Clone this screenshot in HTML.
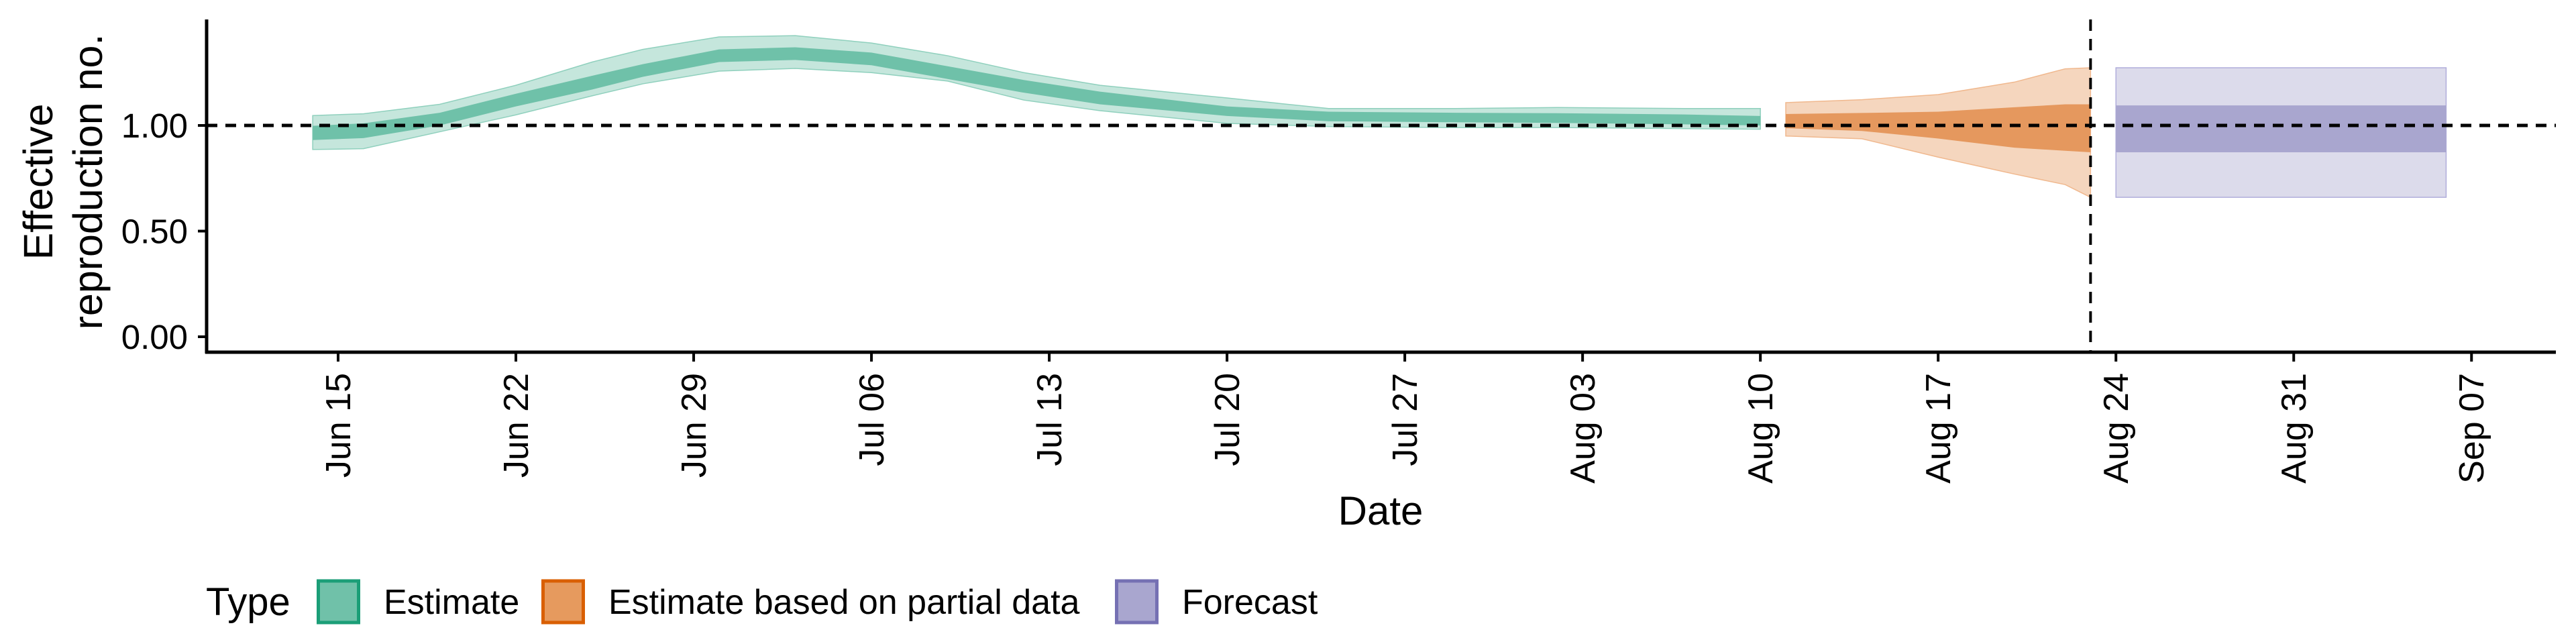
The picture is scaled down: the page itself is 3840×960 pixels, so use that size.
<!DOCTYPE html>
<html><head><meta charset="utf-8"><style>
html,body{margin:0;padding:0;background:#fff;}
svg{display:block;font-family:"Liberation Sans",sans-serif;}
</style></head><body>
<svg id="chart" width="3840" height="960" viewBox="0 0 3840 960">
<g id="bands"></g>
<g id="axes"></g>
<g id="legend"></g>
</svg>
<script>
// ---- data ----
const tickLabels = ["Jun 15","Jun 22","Jun 29","Jul 06","Jul 13","Jul 20","Jul 27","Aug 03","Aug 10","Aug 17","Aug 24","Aug 31","Sep 07"];
const tickDays = [0,7,14,21,28,35,42,49,56,63,70,77,84];
const yTicks = [0,0.5,1.0];
const yTickLabels = ["0.00","0.50","1.00"];
// Estimate (day offset from Jun 15)
const estDays = [-1,1,4,7,10,12,15,18,21,24,27,30,35,39,44,48,53,56];
const estLo90 = [.886,.89,.97,1.05,1.14,1.197,1.257,1.27,1.25,1.21,1.12,1.07,1.01,.995,.99,.99,.985,.982];
const estHi90 = [1.047,1.055,1.10,1.19,1.30,1.36,1.419,1.425,1.39,1.33,1.25,1.19,1.13,1.08,1.08,1.085,1.08,1.08];
const estLo50 = [.931,.94,1.0,1.09,1.17,1.23,1.30,1.31,1.285,1.22,1.155,1.10,1.045,1.02,1.015,1.012,1.005,1.0];
const estHi50 = [.998,1.01,1.06,1.15,1.235,1.29,1.36,1.37,1.345,1.28,1.215,1.16,1.09,1.065,1.06,1.058,1.052,1.045];
// Estimate based on partial data
const partDays = [57,60,63,66,68,69];
const partLo90 = [.95,.937,.85,.77,.72,.66];
const partHi90 = [1.108,1.122,1.146,1.205,1.268,1.273];
const partLo50 = [.987,.974,.938,.895,.88,.873];
const partHi50 = [1.054,1.059,1.065,1.086,1.10,1.10];
// Forecast
const fcDays = [70,83];
const fcLo90 = [.66,.66];
const fcHi90 = [1.273,1.273];
const fcLo50 = [.873,.873];
const fcHi50 = [1.095,1.095];
const cutoffDay = 69;
const refValue = 1.0;

// ---- scales ----
const X0 = 504, DAYPX = 37.86;
const xs = d => X0 + d*DAYPX;
const ys = v => 502 - 315*v;
const NS = "http://www.w3.org/2000/svg";
function mk(tag, attrs, parent){const e=document.createElementNS(NS,tag);for(const k in attrs)e.setAttribute(k,attrs[k]);parent.appendChild(e);return e;}

const bands = document.getElementById('bands');
function ribbon(days, lo, hi, fill, stroke, name){
  let pts=[];
  for(let i=0;i<days.length;i++) pts.push(xs(days[i])+","+ys(hi[i]));
  for(let i=days.length-1;i>=0;i--) pts.push(xs(days[i])+","+ys(lo[i]));
  const p = mk('polygon',{points:pts.join(" "),fill:fill,stroke:stroke,'stroke-width':1.5},bands);
  
  
}
ribbon(estDays, estLo90, estHi90, "#c5e6dc", "#8fd0bd", "estimate-90-band");
ribbon(estDays, estLo50, estHi50, "#6fc1a9", "none", "estimate-50-band");
ribbon(partDays, partLo90, partHi90, "#f5d6be", "#f0b88e", "partial-90-band");
ribbon(partDays, partLo50, partHi50, "#e5985e", "none", "partial-50-band");
ribbon(fcDays, fcLo90, fcHi90, "#dcdbeb", "#b0addb", "forecast-90-band");
ribbon(fcDays, fcLo50, fcHi50, "#a9a6cf", "none", "forecast-50-band");

const axes = document.getElementById('axes');
const hl = mk('line',{x1:308,x2:3810,y1:ys(refValue),y2:ys(refValue),stroke:"#000",'stroke-width':5,'stroke-dasharray':"16 12"},axes);


const vl = mk('line',{x1:xs(cutoffDay),x2:xs(cutoffDay),y1:29,y2:525,stroke:"#000",'stroke-width':4,'stroke-dasharray':"17 12"},axes);



const ya = mk('line',{x1:308,x2:308,y1:29,y2:527,stroke:"#000",'stroke-width':5},axes);


const xa = mk('line',{x1:306,x2:3810,y1:525,y2:525,stroke:"#000",'stroke-width':5},axes);



yTicks.forEach((v,i)=>{
  const t = mk('line',{x1:295,x2:308,y1:ys(v),y2:ys(v),stroke:"#000",'stroke-width':4},axes);
  
  
  const l = mk('text',{x:280,y:ys(v)+18,'text-anchor':'end','font-size':51,fill:"#000"},axes);
  l.textContent = yTickLabels[i];
  
  
});
tickDays.forEach((d,i)=>{
  const x = xs(d);
  const t = mk('line',{x1:x,x2:x,y1:525,y2:539,stroke:"#000",'stroke-width':4},axes);
  
  
  const l = mk('text',{x:0,y:0,'text-anchor':'end','font-size':52,fill:"#000",transform:`translate(${x+18},556) rotate(-90)`},axes);
  l.textContent = tickLabels[i];
  
  
});
const xt = mk('text',{x:2058,y:782,'text-anchor':'middle','font-size':60,fill:"#000"},axes);
xt.textContent = "Date";


const yt = mk('text',{'text-anchor':'middle','font-size':61,fill:"#000",transform:"translate(0,271) rotate(-90)"},axes);


const t1 = mk('tspan',{x:0,y:78},yt); t1.textContent="Effective";
const t2 = mk('tspan',{x:0,y:152},yt); t2.textContent="reproduction no.";

// legend
const lg = document.getElementById('legend');
const lt = mk('text',{x:307,y:917,'font-size':58,fill:"#000"},lg);
lt.textContent="Type";


const legNames = ["Estimate","Estimate based on partial data","Forecast"];
const legFill = ["#70c1a9","#e69a5e","#a9a6cf"];
const legStroke = ["#1b9e77","#d95f02","#7570b3"];
const legX = [472,807,1662];
legNames.forEach((n,i)=>{
  const r = mk('rect',{x:legX[i]+2.5,y:866,width:60,height:62,fill:legFill[i],stroke:legStroke[i],'stroke-width':5},lg);
  
  
  const t = mk('text',{x:legX[i]+100,y:915,'font-size':52,fill:"#000"},lg);
  t.textContent=n;
  
  
});
</script>
</body></html>
